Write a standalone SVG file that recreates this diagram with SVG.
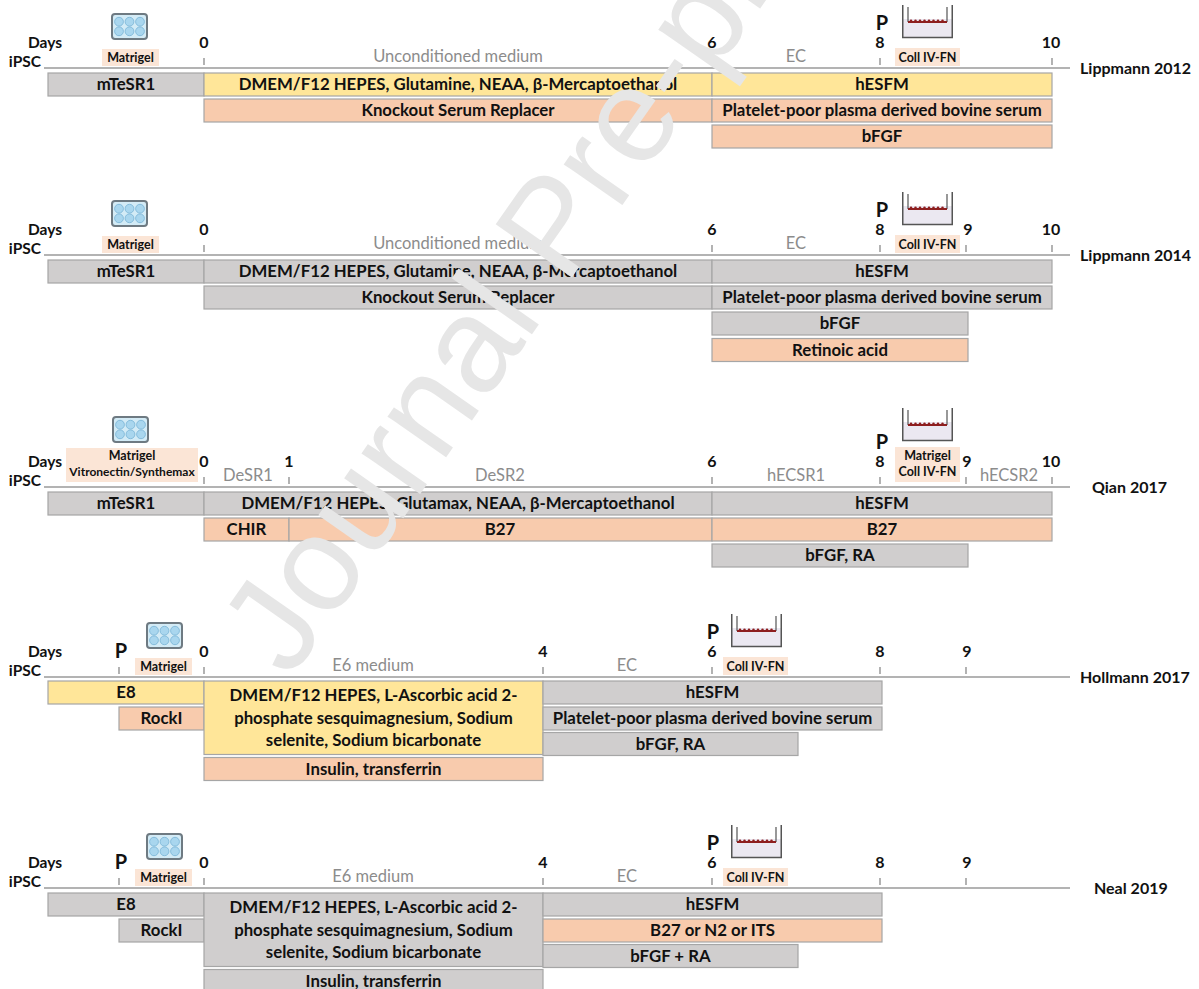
<svg xmlns="http://www.w3.org/2000/svg" xmlns:xlink="http://www.w3.org/1999/xlink" width="1199" height="989" viewBox="0 0 1199 989">
<style>
text{font-family:Lato,'Liberation Sans',sans-serif;}
.bar{stroke:#a6a6a6;stroke-width:1.2}
.g{fill:#d0cece}.y{fill:#ffe699}.o{fill:#f8cbad}
.bt{font-size:16.8px;font-weight:700;text-anchor:middle;fill:#111}
.day{font-size:16px;font-weight:700;text-anchor:middle;fill:#111}
.ph{font-size:16.5px;fill:#8c8c8c;text-anchor:middle}
.lbl{fill:#fbe5d6}
.lt{font-size:12.5px;font-weight:700;text-anchor:middle;fill:#111}
.P{font-size:20px;font-weight:700;text-anchor:middle;fill:#111}
.axis{stroke:#b3b3b3;stroke-width:1.8}
.tick{stroke:#808080;stroke-width:1.2}
.hdr{font-size:15.5px;font-weight:700;fill:#111}
.study{font-size:16px;font-weight:700;fill:#111}
.wm{font-family:'Liberation Sans',sans-serif;font-size:135px;fill:#e6e6e6}
</style>
<defs>
<g id="plate">
<rect x="1" y="1" width="35" height="25" rx="3" fill="#d3ebf6" stroke="#6e7a82" stroke-width="2"/>
<g fill="#a9d6ee" stroke="#78b4d6" stroke-width="0.8">
<circle cx="8" cy="8.7" r="4.4"/><circle cx="18.5" cy="8.7" r="4.4"/><circle cx="29" cy="8.7" r="4.4"/>
<circle cx="8" cy="18.3" r="4.4"/><circle cx="18.5" cy="18.3" r="4.4"/><circle cx="29" cy="18.3" r="4.4"/>
</g>
</g>
<g id="tw">
<rect x="1" y="14" width="49" height="18.5" fill="#ebe8f1"/>
<path d="M0.75,0 V32.5 H50.25 V0" fill="none" stroke="#555" stroke-width="1.5"/>
<path d="M6,2 V17 M45,2 V17" stroke="#555" stroke-width="1.2"/>
<path d="M6,17 H45" stroke="#8e1f1f" stroke-width="1.8"/>
<g fill="#8e1f1f"><circle cx="9" cy="15.9" r="1.3"/><circle cx="13.5" cy="15.9" r="1.3"/><circle cx="18" cy="15.9" r="1.3"/><circle cx="22.5" cy="15.9" r="1.3"/><circle cx="27" cy="15.9" r="1.3"/><circle cx="31.5" cy="15.9" r="1.3"/><circle cx="36" cy="15.9" r="1.3"/><circle cx="40.5" cy="15.9" r="1.3"/></g>
</g>
</defs>
<rect width="1199" height="989" fill="#fff"/>

<g id="timelines">
<line class="axis" x1="44" y1="68" x2="1070" y2="68"/>
<line class="axis" x1="44" y1="255" x2="1070" y2="255"/>
<line class="axis" x1="44" y1="487" x2="1070" y2="487"/>
<line class="axis" x1="44" y1="677" x2="1070" y2="677"/>
<line class="axis" x1="44" y1="888" x2="1070" y2="888"/>
<g class="tick">
<path d="M204,58V65 M712,58V65 M880,58V65 M1052,58V65"/>
<path d="M204,245V252 M712,245V252 M880,245V252 M966,245V252 M1052,245V252"/>
<path d="M204,477V484 M289,477V484 M712,477V484 M880,477V484 M966,477V484 M1052,477V484"/>
<path d="M119,667V674 M204,667V674 M543,667V674 M712,667V674 M880,667V674 M966,667V674"/>
<path d="M119,878V885 M204,878V885 M543,878V885 M712,878V885 M880,878V885 M966,878V885"/>
</g>
</g>

<g id="lippmann2012">
<text class="hdr" x="45" y="48" text-anchor="middle">Days</text>
<text class="hdr" x="41" y="67" text-anchor="end">iPSC</text>
<use xlink:href="#plate" x="111" y="13"/>
<rect class="lbl" x="102" y="49" width="57" height="17"/><text class="lt" x="130.5" y="62">Matrigel</text>
<text class="day" x="204" y="48">0</text><text class="day" x="712" y="48">6</text><text class="day" x="880" y="48">8</text><text class="day" x="1051" y="48">10</text>
<text class="P" x="882" y="30">P</text>
<use xlink:href="#tw" x="902" y="5"/>
<rect class="lbl" x="895" y="48" width="65" height="18"/><text class="lt" x="927.5" y="61.5">Coll IV-FN</text>
<text class="ph" x="458" y="62">Unconditioned medium</text>
<text class="ph" x="796" y="62">EC</text>
<text class="study" x="1080" y="73.5">Lippmann 2012</text>
<g id="l12-mtesr"><rect class="bar g" x="48" y="73" width="156" height="23"/><text class="bt" x="126" y="90">mTeSR1</text></g>
<g id="l12-dmem"><rect class="bar y" x="204" y="73" width="508" height="23"/><text class="bt" x="458" y="90">DMEM/F12 HEPES, Glutamine, NEAA, β-Mercaptoethanol</text></g>
<g id="l12-hesfm"><rect class="bar y" x="712" y="73" width="340" height="23"/><text class="bt" x="882" y="90">hESFM</text></g>
<g id="l12-ksr"><rect class="bar o" x="204" y="99" width="508" height="23"/><text class="bt" x="458" y="116">Knockout Serum Replacer</text></g>
<g id="l12-pdbs"><rect class="bar o" x="712" y="99" width="340" height="23"/><text class="bt" x="882" y="116">Platelet-poor plasma derived bovine serum</text></g>
<g id="l12-bfgf"><rect class="bar o" x="712" y="125" width="340" height="23"/><text class="bt" x="882" y="142">bFGF</text></g>
</g>

<g id="lippmann2014">
<text class="hdr" x="45" y="235" text-anchor="middle">Days</text>
<text class="hdr" x="41" y="254" text-anchor="end">iPSC</text>
<use xlink:href="#plate" x="111" y="200"/>
<rect class="lbl" x="102" y="236" width="57" height="17"/><text class="lt" x="130.5" y="249">Matrigel</text>
<text class="day" x="204" y="235">0</text><text class="day" x="712" y="235">6</text><text class="day" x="880" y="235">8</text><text class="day" x="968" y="235">9</text><text class="day" x="1051" y="235">10</text>
<text class="P" x="882" y="217">P</text>
<use xlink:href="#tw" x="902" y="192"/>
<rect class="lbl" x="895" y="235" width="65" height="18"/><text class="lt" x="927.5" y="248.5">Coll IV-FN</text>
<text class="ph" x="458" y="249">Unconditioned medium</text>
<text class="ph" x="796" y="249">EC</text>
<text class="study" x="1080" y="260.5">Lippmann 2014</text>
<g id="l14-mtesr"><rect class="bar g" x="48" y="260" width="156" height="23"/><text class="bt" x="126" y="277">mTeSR1</text></g>
<g id="l14-dmem"><rect class="bar g" x="204" y="260" width="508" height="23"/><text class="bt" x="458" y="277">DMEM/F12 HEPES, Glutamine, NEAA, β-Mercaptoethanol</text></g>
<g id="l14-hesfm"><rect class="bar g" x="712" y="260" width="340" height="23"/><text class="bt" x="882" y="277">hESFM</text></g>
<g id="l14-ksr"><rect class="bar g" x="204" y="286" width="508" height="23"/><text class="bt" x="458" y="303">Knockout Serum Replacer</text></g>
<g id="l14-pdbs"><rect class="bar g" x="712" y="286" width="340" height="23"/><text class="bt" x="882" y="303">Platelet-poor plasma derived bovine serum</text></g>
<g id="l14-bfgf"><rect class="bar g" x="712" y="312" width="256" height="23"/><text class="bt" x="840" y="329">bFGF</text></g>
<g id="l14-ra"><rect class="bar o" x="712" y="338.5" width="256" height="23"/><text class="bt" x="840" y="355.5">Retinoic acid</text></g>
</g>

<g id="qian2017">
<text class="hdr" x="45" y="467" text-anchor="middle">Days</text>
<text class="hdr" x="41" y="486" text-anchor="end">iPSC</text>
<use xlink:href="#plate" x="112" y="416"/>
<rect class="lbl" x="66" y="448" width="132" height="34"/><text class="lt" x="132" y="460">Matrigel</text><text class="lt" x="132" y="476" style="font-size:12px">Vitronectin/Synthemax</text>
<text class="day" x="204" y="467">0</text><text class="day" x="289" y="467">1</text><text class="day" x="712" y="467">6</text><text class="day" x="880" y="467">8</text><text class="day" x="967" y="467">9</text><text class="day" x="1051" y="467">10</text>
<text class="P" x="882" y="449">P</text>
<use xlink:href="#tw" x="902" y="408"/>
<rect class="lbl" x="895" y="447" width="65" height="35"/><text class="lt" x="927.5" y="460">Matrigel</text><text class="lt" x="927.5" y="476">Coll IV-FN</text>
<text class="ph" x="248" y="481">DeSR1</text>
<text class="ph" x="500" y="481">DeSR2</text>
<text class="ph" x="796" y="481">hECSR1</text>
<text class="ph" x="1009" y="481">hECSR2</text>
<text class="study" x="1092" y="492.5">Qian 2017</text>
<g id="q-mtesr"><rect class="bar g" x="48" y="492" width="156" height="23"/><text class="bt" x="126" y="509">mTeSR1</text></g>
<g id="q-dmem"><rect class="bar g" x="204" y="492" width="508" height="23"/><text class="bt" x="458" y="509">DMEM/F12 HEPES, Glutamax, NEAA, β-Mercaptoethanol</text></g>
<g id="q-hesfm"><rect class="bar g" x="712" y="492" width="340" height="23"/><text class="bt" x="882" y="509">hESFM</text></g>
<g id="q-chir"><rect class="bar o" x="204" y="518" width="85" height="23"/><text class="bt" x="246.5" y="535">CHIR</text></g>
<g id="q-b27a"><rect class="bar o" x="289" y="518" width="423" height="23"/><text class="bt" x="500" y="535">B27</text></g>
<g id="q-b27b"><rect class="bar o" x="712" y="518" width="340" height="23"/><text class="bt" x="882" y="535">B27</text></g>
<g id="q-bfgfra"><rect class="bar g" x="712" y="544" width="256" height="23"/><text class="bt" x="840" y="561">bFGF, RA</text></g>
</g>

<g id="hollmann2017">
<text class="hdr" x="45" y="657" text-anchor="middle">Days</text>
<text class="hdr" x="41" y="676" text-anchor="end">iPSC</text>
<text class="P" x="121" y="658">P</text>
<use xlink:href="#plate" x="146" y="622"/>
<rect class="lbl" x="135" y="658" width="57" height="17"/><text class="lt" x="163.5" y="671">Matrigel</text>
<text class="day" x="204" y="657">0</text><text class="day" x="543" y="657">4</text><text class="day" x="712" y="657">6</text><text class="day" x="880" y="657">8</text><text class="day" x="967" y="657">9</text>
<text class="P" x="713" y="639">P</text>
<use xlink:href="#tw" x="731" y="614"/>
<rect class="lbl" x="723" y="657" width="65" height="18"/><text class="lt" x="755.5" y="670.5">Coll IV-FN</text>
<text class="ph" x="373" y="671">E6 medium</text>
<text class="ph" x="627" y="671">EC</text>
<text class="study" x="1080" y="682.5">Hollmann 2017</text>
<g id="h-e8"><rect class="bar y" x="48" y="681" width="156" height="23"/><text class="bt" x="126" y="698">E8</text></g>
<g id="h-rocki"><rect class="bar o" x="119" y="707" width="85" height="23"/><text class="bt" x="161.5" y="724">RockI</text></g>
<g id="h-dmem"><rect class="bar y" x="204" y="681" width="339" height="73.5"/><text class="bt" x="373.5" y="701">DMEM/F12 HEPES, L-Ascorbic acid 2-</text><text class="bt" x="373.5" y="724">phosphate sesquimagnesium, Sodium</text><text class="bt" x="373.5" y="746">selenite, Sodium bicarbonate</text></g>
<g id="h-ins"><rect class="bar o" x="204" y="757.5" width="339" height="23"/><text class="bt" x="373.5" y="774.5">Insulin, transferrin</text></g>
<g id="h-hesfm"><rect class="bar g" x="543" y="681" width="339" height="23"/><text class="bt" x="712.5" y="698">hESFM</text></g>
<g id="h-pdbs"><rect class="bar g" x="543" y="707" width="339" height="23"/><text class="bt" x="712.5" y="724">Platelet-poor plasma derived bovine serum</text></g>
<g id="h-bfgfra"><rect class="bar g" x="543" y="732.5" width="255" height="23"/><text class="bt" x="670.5" y="749.5">bFGF, RA</text></g>
</g>

<g id="neal2019">
<text class="hdr" x="45" y="868" text-anchor="middle">Days</text>
<text class="hdr" x="41" y="887" text-anchor="end">iPSC</text>
<text class="P" x="121" y="869">P</text>
<use xlink:href="#plate" x="146" y="833"/>
<rect class="lbl" x="135" y="869" width="57" height="17"/><text class="lt" x="163.5" y="882">Matrigel</text>
<text class="day" x="204" y="868">0</text><text class="day" x="543" y="868">4</text><text class="day" x="712" y="868">6</text><text class="day" x="880" y="868">8</text><text class="day" x="967" y="868">9</text>
<text class="P" x="713" y="850">P</text>
<use xlink:href="#tw" x="731" y="825"/>
<rect class="lbl" x="723" y="868" width="65" height="18"/><text class="lt" x="755.5" y="881.5">Coll IV-FN</text>
<text class="ph" x="373" y="882">E6 medium</text>
<text class="ph" x="627" y="882">EC</text>
<text class="study" x="1094" y="893.5">Neal 2019</text>
<g id="n-e8"><rect class="bar g" x="48" y="893" width="156" height="23"/><text class="bt" x="126" y="910">E8</text></g>
<g id="n-rocki"><rect class="bar g" x="119" y="919" width="85" height="23"/><text class="bt" x="161.5" y="936">RockI</text></g>
<g id="n-dmem"><rect class="bar g" x="204" y="893" width="339" height="73.5"/><text class="bt" x="373.5" y="913">DMEM/F12 HEPES, L-Ascorbic acid 2-</text><text class="bt" x="373.5" y="936">phosphate sesquimagnesium, Sodium</text><text class="bt" x="373.5" y="958">selenite, Sodium bicarbonate</text></g>
<g id="n-ins"><rect class="bar g" x="204" y="969.5" width="339" height="23"/><text class="bt" x="373.5" y="986.5">Insulin, transferrin</text></g>
<g id="n-hesfm"><rect class="bar g" x="543" y="893" width="339" height="23"/><text class="bt" x="712.5" y="910">hESFM</text></g>
<g id="n-b27"><rect class="bar o" x="543" y="919" width="339" height="23"/><text class="bt" x="712.5" y="936">B27 or N2 or ITS</text></g>
<g id="n-bfgfra"><rect class="bar g" x="543" y="944.5" width="255" height="23"/><text class="bt" x="670.5" y="961.5">bFGF + RA</text></g>
</g>

<text class="wm" transform="translate(290,680) rotate(-55)">Journal Pre-proof</text>
</svg>
